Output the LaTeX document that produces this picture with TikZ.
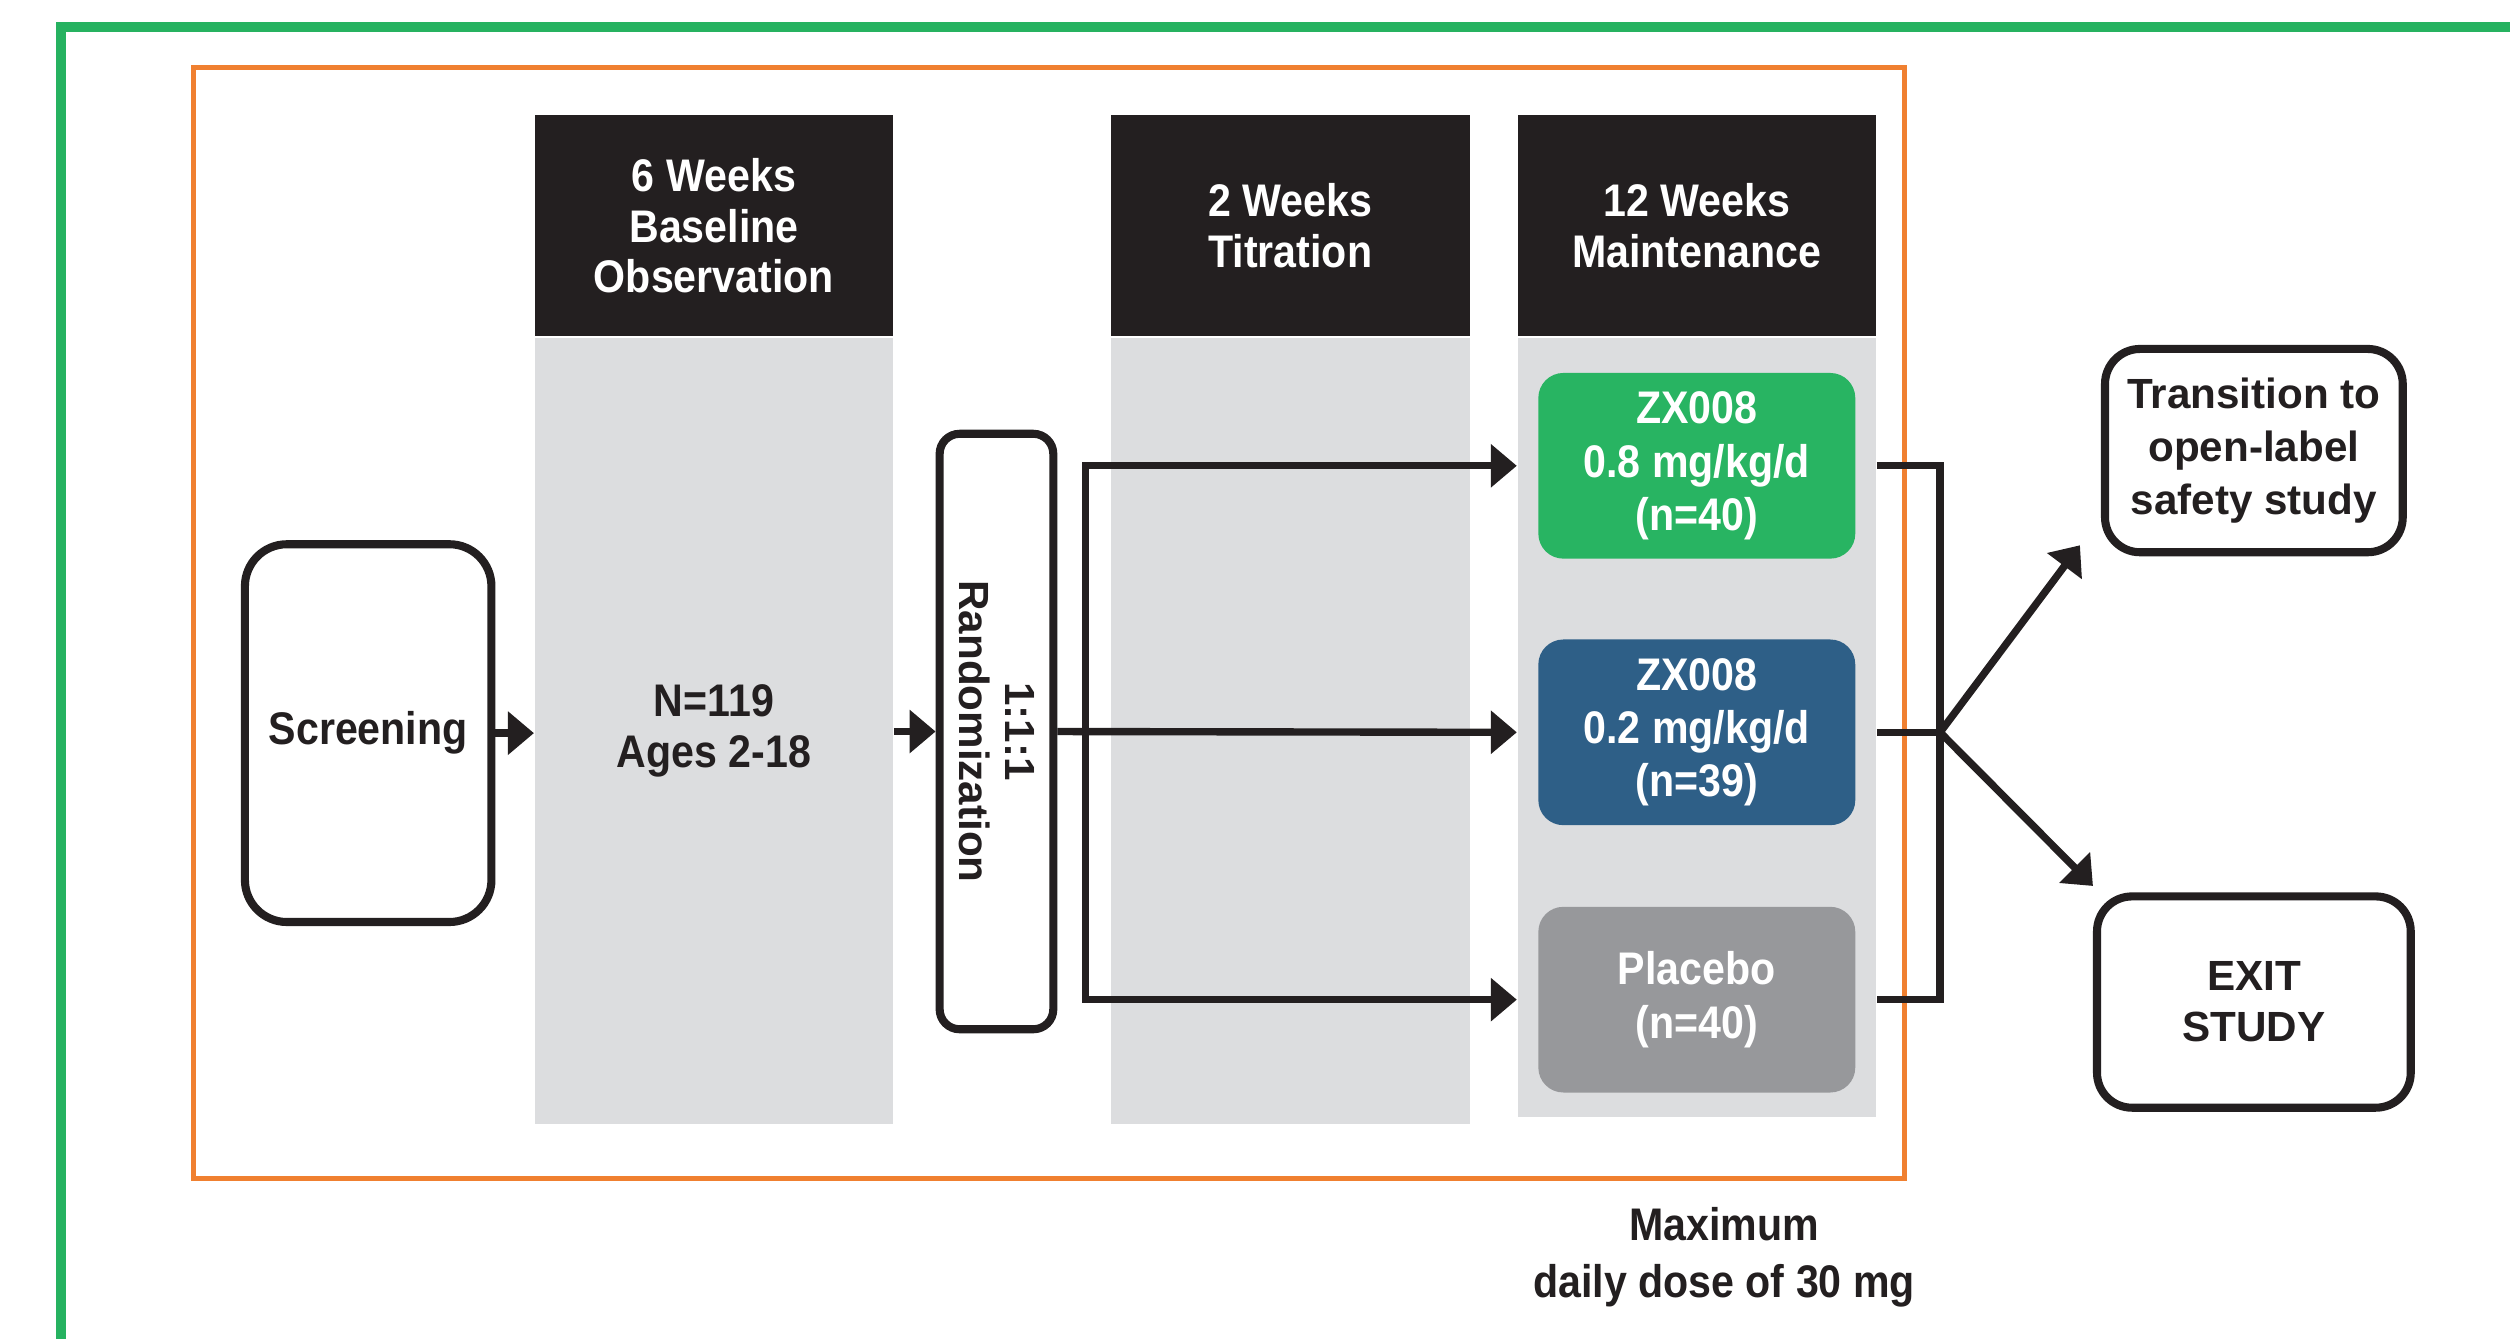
\documentclass[tikz,border=0pt]{standalone}
\usepackage{fontspec}
\setmainfont{Liberation Sans}
\newfontfamily\narrowfont{Liberation Sans}[FakeStretch=0.9]
\usetikzlibrary{positioning,arrows.meta}

\definecolor{frameGreen}{RGB}{38,178,96}
\definecolor{frameOrange}{RGB}{240,128,48}
\definecolor{inkBlack}{RGB}{35,31,32}
\definecolor{phaseGrey}{RGB}{220,221,223}
\definecolor{armGreen}{RGB}{40,180,98}
\definecolor{armBlue}{RGB}{46,95,135}
\definecolor{armGrey}{RGB}{151,152,155}

\tikzset{
  header/.style={fill=inkBlack,text=white,inner sep=0pt,align=center,
    minimum width=3.584cm,minimum height=2.208cm,
    font=\narrowfont\bfseries\fontsize{13}{14.3}\selectfont},
  phase/.style={fill=phaseGrey,text=inkBlack,inner sep=0pt,align=center,
    minimum width=3.584cm,minimum height=7.856cm,
    font=\narrowfont\bfseries\fontsize{13}{14.5}\selectfont},
  arm/.style={rounded corners=0.25cm,text=white,inner sep=0pt,align=center,
    minimum width=3.168cm,minimum height=1.856cm,
    font=\narrowfont\bfseries\fontsize{13}{15.2}\selectfont},
  outline/.style={draw=inkBlack,line width=2.3pt,fill=white,text=inkBlack,
    inner sep=0pt,align=center},
  link/.style={draw=inkBlack,line width=2.1pt},
  flow/.style={link,-{Triangle[length=0.26cm,width=0.42cm]}}
}

\begin{document}
\begin{tikzpicture}
  \useasboundingbox (0,0) rectangle (25.088,13.376);
  \clip (0,0) rectangle (25.088,13.376);

  % frames
  \draw[frameGreen,line width=2.7pt] (0.608,-1) -- (0.608,13.104) -- (26,13.104);
  \draw[frameOrange,line width=1.4pt] (1.936,1.6) rectangle (19.04,12.704);

  % phases
  \node[header] (obsHead) at (7.136,11.12) {6 Weeks\\Baseline\\Observation};
  \node[phase,below=0pt of obsHead] (obs) {N=119\\Ages 2-18};
  \node[header] (titHead) at (12.896,11.12) {2 Weeks\\Titration};
  \node[phase,below=0pt of titHead] (tit) {};
  \node[header] (mntHead) at (16.96,11.12) {12 Weeks\\Maintenance};
  \node[phase,below=0pt of mntHead,minimum height=7.792cm] (mnt) {};

  \node[outline,rounded corners=0.42cm,minimum width=2.464cm,minimum height=3.776cm,
    font=\narrowfont\bfseries\fontsize{13}{15}\selectfont] (screen) at (3.68,6.048) {Screening};
  \node[outline,rounded corners=0.2cm,minimum width=1.136cm,minimum height=5.952cm] (rand) at (9.96,6.064) {};
  \node[rotate=-90,align=center,text=inkBlack,
    font=\bfseries\fontsize{12}{13}\selectfont] (randText) at (rand) {1:1:1\\Randomization};

  % arms
  \node[arm,fill=armGreen] (armHigh) at (16.96,8.72) {ZX008\\0.8 mg/kg/d\\(n=40)};
  \node[arm,fill=armBlue] (armLow) at (16.96,6.056) {ZX008\\0.2 mg/kg/d\\(n=39)};
  \node[arm,fill=armGrey] (armPbo) at (16.96,3.384) {Placebo\\(n=40)};

  \node[outline,rounded corners=0.35cm,minimum width=2.976cm,minimum height=2.032cm,
    font=\bfseries\fontsize{12}{15}\selectfont] (open) at (22.528,8.872) {Transition to\\open-label\\safety study};
  \node[outline,rounded corners=0.35cm,minimum width=3.136cm,minimum height=2.112cm,
    font=\bfseries\fontsize{12}{14.5}\selectfont] (exit) at (22.528,3.36) {EXIT\\STUDY};

  \node[align=center,text=inkBlack,font=\narrowfont\bfseries\fontsize{13}{16}\selectfont]
    (maxDose) at (17.232,0.81) {Maximum\\daily dose of 30 mg};

  % connectors
  \coordinate (split) at (10.848,6.064);
  \coordinate (merge) at (19.392,6.056);
  \draw[flow] (screen.east) -- (screen.east -| obs.west);
  \draw[flow] (rand.west -| obs.east) -- (rand.west);
  \draw[flow] (rand.east) -- (armLow.west -| mnt.west);
  \draw[flow] (split) |- (armHigh.west -| mnt.west);
  \draw[flow] (split) |- (armPbo.west -| mnt.west);
  \draw[link] (armHigh.east -| mnt.east) -| (merge) |- (armPbo.east -| mnt.east);
  \draw[link] (armLow.east -| mnt.east) -- (merge);
  \draw[flow] (merge) -- ([xshift=-0.21cm,yshift=0.11cm]open.south west);
  \draw[flow] (merge) -- ([yshift=0.064cm]exit.north west);
\end{tikzpicture}
\end{document}
